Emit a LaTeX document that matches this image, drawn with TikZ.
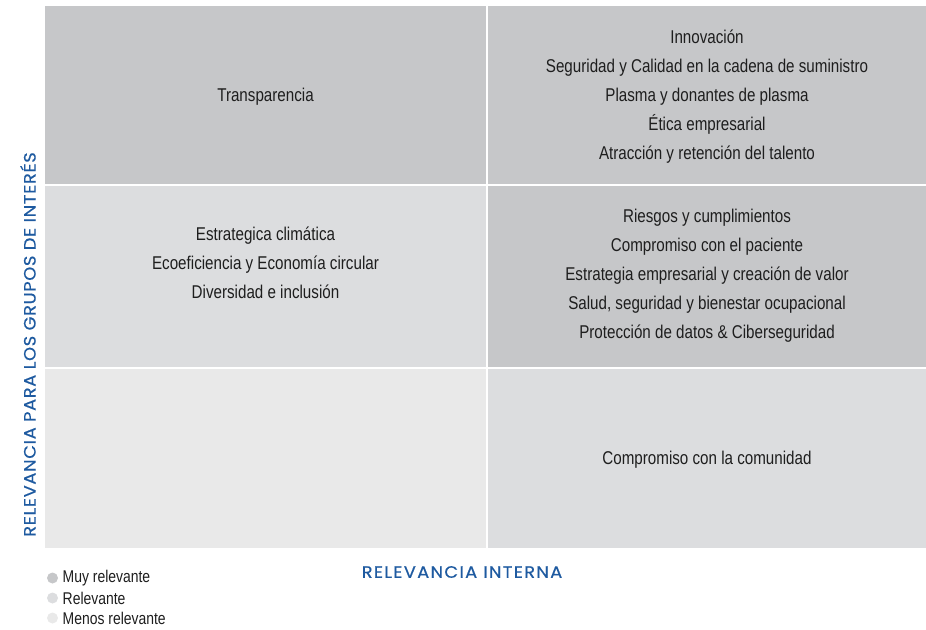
\documentclass[tikz,border=0pt]{standalone}
\usepackage{fontspec}
\setmainfont{Liberation Sans}
\newfontfamily\condfont[FakeStretch=0.82]{Liberation Sans}
\newfontfamily\axisfontA[LetterSpace=8,FakeStretch=1.08,FakeBold=0.6]{Poppins}
\newfontfamily\axisfontB[LetterSpace=4,FakeStretch=1.08,FakeBold=0.6]{Poppins}
\definecolor{darkcell}{HTML}{C6C7C9}
\definecolor{midcell}{HTML}{DCDDDF}
\definecolor{lightcell}{HTML}{E9E9E9}
\definecolor{axisblue}{HTML}{1E5AA0}
\definecolor{txt}{HTML}{1E1E1E}
\begin{document}
\begin{tikzpicture}[x=1pt,y=-1pt,
  celltext/.style={text=txt,align=center,font=\condfont\fontsize{18.5}{29}\selectfont,inner sep=0pt},
  axislabel/.style={text=axisblue,inner sep=0pt},
  legdot/.style={circle,draw=none,minimum size=11pt,inner sep=0pt},
  legtext/.style={text=txt,anchor=west,font=\condfont\fontsize{17}{20}\selectfont,inner sep=0pt}]
\useasboundingbox (0,0) rectangle (926,629);
% cells
\path[fill=darkcell] (45,6) rectangle (486,184);
\path[fill=darkcell] (488,6) rectangle (926,184);
\path[fill=midcell] (45,186) rectangle (486,367);
\path[fill=darkcell] (488,186) rectangle (926,367);
\path[fill=lightcell] (45,369) rectangle (486,548);
\path[fill=midcell] (488,369) rectangle (926,548);
% texts
\node[celltext] (tl) at (265.5,97) {Transparencia};
\node[celltext] (tr) at (707,96.5) {Innovación\\Seguridad y Calidad en la cadena de suministro\\Plasma y donantes de plasma\\Ética empresarial\\Atracción y retención del talento};
\node[celltext] (ml) at (265.5,263) {Estrategica climática\\Ecoeficiencia y Economía circular\\Diversidad e inclusión};
\node[celltext] (mr) at (707,276) {Riesgos y cumplimientos\\Compromiso con el paciente\\Estrategia empresarial y creación de valor\\Salud, seguridad y bienestar ocupacional\\Protección de datos \& Ciberseguridad};
\node[celltext] (br) at (707,460) {Compromiso con la comunidad};
% axes
\node[axislabel,font=\axisfontA\fontsize{16.5}{18}\selectfont] (xaxis) at (462,572) {RELEVANCIA INTERNA};
\node[axislabel,rotate=90,font=\axisfontB\fontsize{16.5}{18}\selectfont] (yaxis) at (28,344.5) {RELEVANCIA PARA LOS GRUPOS DE INTERÉS};
% legend
\node[legdot,fill=darkcell] (d1) at (52.5,578) {};
\node[legdot,fill=midcell] (d2) at (52.5,598) {};
\node[legdot,fill=lightcell] (d3) at (52.5,618) {};
\node[legtext] (l1) at (62.5,578) {Muy relevante};
\node[legtext] (l2) at (62.5,598) {Relevante};
\node[legtext] (l3) at (62.5,618) {Menos relevante};
\end{tikzpicture}
\end{document}
